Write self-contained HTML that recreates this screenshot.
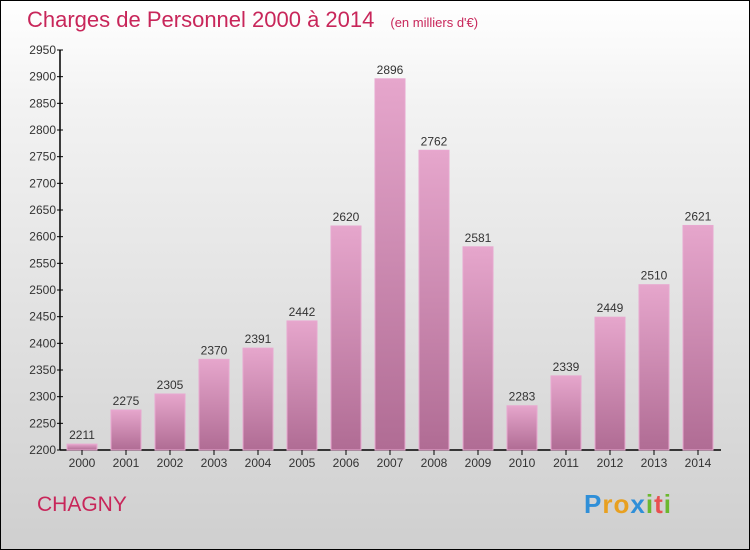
<!DOCTYPE html>
<html><head><meta charset="utf-8"><style>
body{margin:0;}
#wrap{position:relative;width:748px;height:548px;border:1px solid #000;background:linear-gradient(#ffffff,#f2f2f2 20%,#cfcfcf);font-family:"Liberation Sans",sans-serif;overflow:hidden}
#title{position:absolute;left:26px;top:6px;font-size:22px;color:#c8265a;white-space:nowrap}
#title span{font-size:13px;margin-left:16px}
#town{position:absolute;left:36px;top:492px;font-size:21px;color:#c8265a}
#logo{position:absolute;left:583px;top:488px;font-size:26px;font-weight:bold;letter-spacing:1px}
</style></head><body>
<div id="wrap">
<div id="title">Charges de Personnel 2000 à 2014<span>(en milliers d'€)</span></div>
<svg id="chart" width="748" height="548" style="position:absolute;left:0;top:0">
<defs><linearGradient id="bg" x1="0" y1="0" x2="0" y2="1"><stop offset="0" stop-color="#e6a6cc"/><stop offset="1" stop-color="#b06c94"/></linearGradient></defs>
</svg>
<div id="town">CHAGNY</div>
<div id="logo"><span style="color:#2f8fd8">P</span><span style="color:#e8a020">r</span><span style="color:#e8a020">o</span><span style="color:#2f8fd8">x</span><span style="color:#6bb82e">i</span><span style="color:#e85050">t</span><span style="color:#6bb82e">i</span></div>
</div>
<script>
const categories=["2000","2001","2002","2003","2004","2005","2006","2007","2008","2009","2010","2011","2012","2013","2014"];
const values=[2211,2275,2305,2370,2391,2442,2620,2896,2762,2581,2283,2339,2449,2510,2621];
const yTicks=[2200,2250,2300,2350,2400,2450,2500,2550,2600,2650,2700,2750,2800,2850,2900,2950];
const NS="http://www.w3.org/2000/svg";
const svg=document.getElementById('chart');
const y=v=>449-(v-2200)*(400/750);
const x=i=>81+i*44;
function mk(t,a){const e=document.createElementNS(NS,t);for(const k in a)e.setAttribute(k,a[k]);svg.appendChild(e);return e;}
let ax=mk('line',{x1:59,y1:49,x2:59,y2:449,stroke:'#000','stroke-width':1.5});


let bx=mk('line',{x1:59,y1:449,x2:720,y2:449,stroke:'#000','stroke-width':1.5});


yTicks.forEach(t=>{
 const tk=mk('line',{x1:56,x2:62,y1:y(t),y2:y(t),stroke:'#000'});
 
 
 const tx=mk('text',{x:55,y:y(t)+4,'text-anchor':'end','font-size':12,fill:'#333'});
 tx.textContent=t;
 
 
});
categories.forEach((c,i)=>{
 const v=values[i];
 const r=mk('rect',{x:x(i)-15,y:y(v),width:30,height:y(2200)-y(v),fill:'url(#bg)',stroke:'#e8a8d0','stroke-width':1});
 
 
 const lb=mk('text',{x:x(i),y:y(v)-5,'text-anchor':'middle','font-size':12,fill:'#333'});
 lb.textContent=v;
 
 
 const tk=mk('line',{x1:x(i),x2:x(i),y1:449,y2:454,stroke:'#000'});
 
 
 const xl=mk('text',{x:x(i),y:466,'text-anchor':'middle','font-size':12,fill:'#333'});
 xl.textContent=c;
 
 
});
</script>
</body></html>
